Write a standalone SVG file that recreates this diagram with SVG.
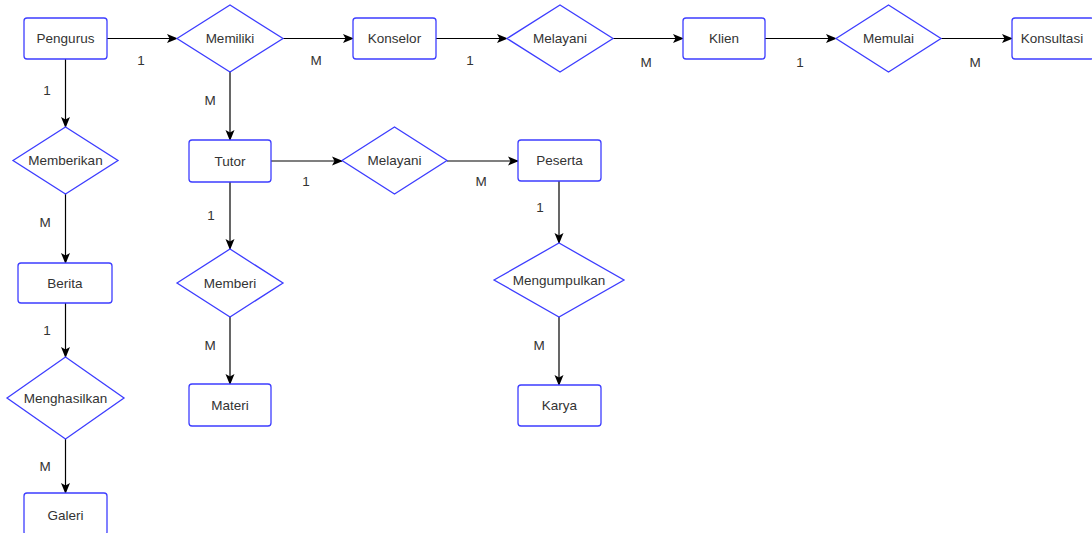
<svg xmlns="http://www.w3.org/2000/svg" width="1092" height="533" viewBox="0 0 1092 533">
<style>
.e{fill:#fff;stroke:#3d3dff;stroke-width:1.3}
.t{font-family:"Liberation Sans",Arial,sans-serif;font-size:13.5px;fill:#333;text-anchor:middle;dominant-baseline:central}
.c{stroke:#000;stroke-width:1.2;fill:none;marker-end:url(#a)}
.l{font-family:"Liberation Sans",Arial,sans-serif;font-size:13.5px;fill:#333;text-anchor:middle}
</style>
<defs>
<marker id="a" markerWidth="12" markerHeight="12" refX="10" refY="6" orient="auto" markerUnits="userSpaceOnUse">
<path d="M0,1.5 L11,6 L0,10.5 L2.5,6 Z" fill="#000"/>
</marker>
</defs>
<rect width="1092" height="533" fill="#fff"/>
<g id="connectors">
<path class="c" d="M107,38.5 H177"/>
<path class="c" d="M283,38.5 H353"/>
<path class="c" d="M436,38.5 H507"/>
<path class="c" d="M613,38.5 H683"/>
<path class="c" d="M765,38.5 H836"/>
<path class="c" d="M941,38.5 H1012"/>
<path class="c" d="M65.5,59 V127"/>
<path class="c" d="M65.5,194 V263"/>
<path class="c" d="M65.5,303 V357"/>
<path class="c" d="M65.5,439 V493"/>
<path class="c" d="M230,72 V140"/>
<path class="c" d="M230,182 V249"/>
<path class="c" d="M230,317 V384"/>
<path class="c" d="M271,161 H342"/>
<path class="c" d="M447,161 H518"/>
<path class="c" d="M559,181 V243"/>
<path class="c" d="M559,317 V385"/>
</g>
<g id="labels">
<text class="l" x="141" y="65">1</text>
<text class="l" x="316" y="65">M</text>
<text class="l" x="470" y="65">1</text>
<text class="l" x="646" y="67">M</text>
<text class="l" x="800" y="67">1</text>
<text class="l" x="975" y="67">M</text>
<text class="l" x="47" y="95">1</text>
<text class="l" x="210" y="105">M</text>
<text class="l" x="45" y="227">M</text>
<text class="l" x="306" y="186">1</text>
<text class="l" x="481" y="186">M</text>
<text class="l" x="211" y="220">1</text>
<text class="l" x="540" y="212">1</text>
<text class="l" x="47" y="335">1</text>
<text class="l" x="210" y="350">M</text>
<text class="l" x="539" y="350">M</text>
<text class="l" x="45" y="471">M</text>
</g>
<g id="pengurus"><rect class="e" x="24" y="18" width="83" height="41" rx="3"/><text class="t" x="65.5" y="38.5">Pengurus</text></g>
<g id="memiliki"><polygon class="e" points="177,38.5 230,5 283,38.5 230,72"/><text class="t" x="230" y="38.5">Memiliki</text></g>
<g id="konselor"><rect class="e" x="353" y="18" width="83" height="41" rx="3"/><text class="t" x="394.5" y="38.5">Konselor</text></g>
<g id="melayani1"><polygon class="e" points="507,38.5 560,5 613,38.5 560,72"/><text class="t" x="560" y="38.5">Melayani</text></g>
<g id="klien"><rect class="e" x="683" y="18" width="82" height="41" rx="3"/><text class="t" x="724" y="38.5">Klien</text></g>
<g id="memulai"><polygon class="e" points="836,38.5 888.5,5 941,38.5 888.5,72"/><text class="t" x="888.5" y="38.5">Memulai</text></g>
<g id="konsultasi"><rect class="e" x="1012" y="18" width="82" height="41" rx="3"/><text class="t" x="1052" y="38.5">Konsultasi</text></g>
<g id="memberikan"><polygon class="e" points="13,160.5 65.5,127 118,160.5 65.5,194"/><text class="t" x="65.5" y="160.5">Memberikan</text></g>
<g id="berita"><rect class="e" x="18" y="263" width="94" height="40" rx="3"/><text class="t" x="65" y="283">Berita</text></g>
<g id="menghasilkan"><polygon class="e" points="7,398 65.5,357 124,398 65.5,439"/><text class="t" x="65.5" y="398">Menghasilkan</text></g>
<g id="galeri"><rect class="e" x="24" y="493" width="83" height="42" rx="3"/><text class="t" x="65.5" y="515">Galeri</text></g>
<g id="tutor"><rect class="e" x="189" y="140" width="82" height="42" rx="3"/><text class="t" x="230" y="161">Tutor</text></g>
<g id="melayani2"><polygon class="e" points="342,160.5 394.5,127 447,160.5 394.5,194"/><text class="t" x="394.5" y="160.5">Melayani</text></g>
<g id="peserta"><rect class="e" x="518" y="140" width="83" height="41" rx="3"/><text class="t" x="559.5" y="160.5">Peserta</text></g>
<g id="memberi"><polygon class="e" points="177,283 230,249 283,283 230,317"/><text class="t" x="230" y="283">Memberi</text></g>
<g id="materi"><rect class="e" x="189" y="384" width="82" height="42" rx="3"/><text class="t" x="230" y="405">Materi</text></g>
<g id="mengumpulkan"><polygon class="e" points="494,280 559,243 624,280 559,317"/><text class="t" x="559" y="280">Mengumpulkan</text></g>
<g id="karya"><rect class="e" x="518" y="385" width="83" height="41" rx="3"/><text class="t" x="559.5" y="405.5">Karya</text></g>
</svg>
